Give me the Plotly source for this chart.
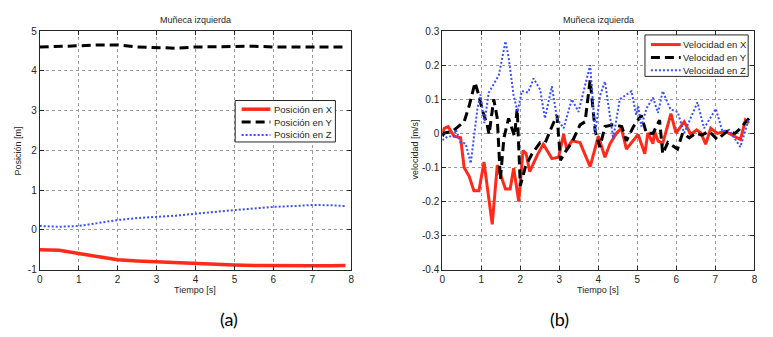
import plotly.graph_objects as go

# ---- Position of the left wrist (m) ----
pos_t = [0.0, 0.5, 1.0, 1.5, 2.0, 2.5, 3.0, 3.5, 4.0, 4.5, 5.0, 5.5, 6.0, 6.5, 7.0, 7.5, 7.85]
pos_x = [-0.5, -0.51, -0.59, -0.68, -0.75, -0.78, -0.8, -0.83, -0.86, -0.87, -0.88, -0.89, -0.9, -0.9, -0.9, -0.9, -0.89]
pos_y = [4.6, 4.61, 4.63, 4.65, 4.65, 4.6, 4.59, 4.57, 4.6, 4.61, 4.62, 4.62, 4.6, 4.6, 4.59, 4.59, 4.6]
pos_z = [0.1, 0.08, 0.1, 0.17, 0.25, 0.3, 0.33, 0.36, 0.41, 0.46, 0.5, 0.54, 0.58, 0.6, 0.63, 0.62, 0.6]

# ---- Velocity of the left wrist (m/s) ----
velx_t = [0.0, 0.05, 0.15, 0.3, 0.47, 0.56, 0.69, 0.81, 0.94, 1.07, 1.28, 1.41, 1.62, 1.74, 1.83, 1.96,
          2.07, 2.15, 2.24, 2.45, 2.59, 2.81, 2.98, 3.11, 3.19, 3.32, 3.53, 3.66, 3.79, 4.0, 4.17, 4.3,
          4.47, 4.59, 4.72, 5.02, 5.19, 5.27, 5.4, 5.44, 5.53, 5.65, 5.86, 5.99, 6.2, 6.37, 6.52, 6.63,
          6.75, 6.88, 7.05, 7.26, 7.45, 7.64, 7.77, 7.86]
velx = [0.0, 0.015, 0.02, -0.008, -0.013, -0.1, -0.126, -0.168, -0.168, -0.084, -0.267, -0.093, -0.163,
        -0.163, -0.102, -0.2, -0.05, -0.06, -0.112, -0.06, -0.032, -0.074, -0.07, -0.003, -0.046, -0.022,
        -0.027, -0.06, -0.098, -0.008, -0.07, -0.03, 0.001, 0.015, -0.046, -0.003, -0.06, 0.001, -0.03,
        0.006, -0.022, -0.03, 0.058, 0.001, 0.034, -0.003, 0.01, 0.001, -0.032, 0.015, 0.0, 0.006,
        -0.005, -0.018, 0.039, 0.03]

vely_t = [0.0, 0.05, 0.26, 0.56, 0.69, 0.84, 0.94, 1.03, 1.15, 1.2, 1.32, 1.41, 1.49, 1.58, 1.7, 1.85,
          1.92, 2.0, 2.13, 2.3, 2.51, 2.64, 2.81, 2.94, 3.03, 3.15, 3.32, 3.53, 3.66, 3.79, 3.92, 4.04,
          4.17, 4.38, 4.6, 4.72, 4.9, 5.1, 5.23, 5.4, 5.57, 5.65, 5.78, 6.03, 6.16, 6.33, 6.5, 6.65,
          6.84, 7.05, 7.3, 7.5, 7.6, 7.86]
vely = [-0.008, 0.001, 0.006, 0.034, 0.081, 0.149, 0.11, 0.067, 0.025, -0.003, 0.1, 0.044, -0.135,
        -0.013, 0.044, -0.008, 0.072, -0.154, -0.098, -0.06, -0.027, -0.027, 0.02, 0.053, -0.079,
        -0.055, -0.027, 0.025, 0.034, 0.157, 0.006, -0.04, 0.02, 0.025, 0.02, -0.022, 0.02, 0.053,
        0.001, 0.0, 0.039, -0.06, -0.027, -0.046, 0.001, -0.013, 0.001, -0.005, 0.006, -0.018,
        0.006, 0.0, 0.01, 0.044]

velz_t = [0.0, 0.05, 0.13, 0.3, 0.35, 0.47, 0.6, 0.73, 0.9, 0.98, 1.08, 1.19, 1.45, 1.62, 1.7, 1.83,
          1.93, 2.04, 2.2, 2.34, 2.51, 2.63, 2.81, 2.94, 3.11, 3.32, 3.49, 3.79, 3.92, 4.04, 4.17, 4.38,
          4.55, 4.85, 4.97, 5.02, 5.1, 5.23, 5.4, 5.53, 5.65, 5.85, 6.03, 6.2, 6.54, 6.71, 7.01, 7.18,
          7.35, 7.64, 7.86]
velz = [-0.02, -0.017, -0.01, -0.008, 0.011, -0.027, -0.03, -0.088, 0.072, 0.114, 0.03, 0.119, 0.171,
        0.27, 0.223, 0.11, 0.063, 0.124, 0.12, 0.161, 0.128, 0.044, 0.138, 0.044, 0.015, 0.1, 0.063,
        0.2, 0.0, 0.11, 0.152, -0.015, 0.1, 0.124, 0.054, 0.081, 0.02, 0.072, 0.105, 0.06, 0.124,
        0.07, 0.063, 0.001, 0.091, 0.015, 0.072, 0.006, 0.01, -0.04, 0.044]

pos_ticks = [-1, 0, 1, 2, 3, 4, 5]
pos_ticktext = ["-1", "0", "1", "2", "3", "4", "5"]
vel_ticks = [-0.4, -0.3, -0.2, -0.1, 0, 0.1, 0.2, 0.3]
vel_ticktext = ["-0.4", "-0.3", "-0.2", "-0.1", "0", "0.1", "0.2", "0.3"]
time_ticks = [0, 1, 2, 3, 4, 5, 6, 7, 8]

pos_names = ["Posición en X", "Posición en Y", "Posición en Z"]
vel_names = ["Velocidad en X", "Velocidad en Y", "Velocidad en Z"]

RED = "#ff2a1a"
BLACK = "#000000"
BLUE = "#3a4dff"
FONT = "Liberation Sans, Arial, sans-serif"
TEXT = "#262626"

styles = [
    dict(color=RED, width=3.5),
    dict(color=BLACK, width=3, dash="9px,5px"),
    dict(color=BLUE, width=2, dash="2px,2px"),
]

fig = go.Figure()

# Position traces (left panel)
for t, v, name, st in zip([pos_t] * 3, [pos_x, pos_y, pos_z], pos_names, styles):
    fig.add_trace(go.Scatter(x=t, y=v, mode="lines", name=name, line=st,
                             xaxis="x", yaxis="y", showlegend=False))

# Velocity traces (right panel)
vel_styles = [dict(styles[0], width=3), styles[1], styles[2]]
for t, v, name, st in zip([velx_t, vely_t, velz_t], [velx, vely, velz], vel_names, vel_styles):
    fig.add_trace(go.Scatter(x=t, y=v, mode="lines", name=name, line=st,
                             xaxis="x2", yaxis="y2", showlegend=False))

W, H = 773, 337
L1, R1 = 37 / W, 351 / W
L2, R2 = 442.7 / W, 757.3 / W
TOP, BOT = 1 - 26 / H, 1 - 273.5 / H

axis_common = dict(
    showline=True, linecolor=TEXT, linewidth=1, mirror="ticks",
    ticks="inside", ticklen=4, tickcolor=TEXT,
    showgrid=True, gridcolor="#9a9a9a", griddash="dot", gridwidth=1,
    zeroline=False, tickfont=dict(family=FONT, size=10, color=TEXT),
)

fig.update_layout(
    width=W, height=H,
    margin=dict(l=0, r=0, t=0, b=0),
    paper_bgcolor="white", plot_bgcolor="white",
    xaxis=dict(domain=[L1, R1], range=[0, 8], tickvals=time_ticks, anchor="y", **axis_common),
    yaxis=dict(domain=[BOT, TOP], range=[-1, 5], tickvals=pos_ticks, ticktext=pos_ticktext,
               anchor="x", **axis_common),
    xaxis2=dict(domain=[L2, R2], range=[0, 8], tickvals=time_ticks, anchor="y2", **axis_common),
    yaxis2=dict(domain=[BOT, TOP], range=[-0.4, 0.3], tickvals=vel_ticks, ticktext=vel_ticktext,
                anchor="x2", **axis_common),
)


def px_x(x):
    return x / W


def px_y(y):
    return 1 - y / H


def note(text, x, y, size=9, angle=0, family=FONT, color=TEXT, anchor="center"):
    fig.add_annotation(text=text, x=px_x(x), y=px_y(y), xref="paper", yref="paper",
                       showarrow=False, textangle=angle,
                       font=dict(family=family, size=size, color=color),
                       xanchor=anchor, yanchor="middle")


def legend_box(x0, y0, x1, y1, rows, line_x0, line_x1, text_x, names, line_styles):
    fig.add_shape(type="rect", xref="paper", yref="paper",
                  x0=px_x(x0), x1=px_x(x1), y0=px_y(y1), y1=px_y(y0),
                  line=dict(color=TEXT, width=1), fillcolor="white", layer="above")
    for ry, name, st in zip(rows, names, line_styles):
        fig.add_shape(type="line", xref="paper", yref="paper",
                      x0=px_x(line_x0), x1=px_x(line_x1), y0=px_y(ry), y1=px_y(ry),
                      line=st, layer="above")
        note(name, text_x, ry, size=9.5, anchor="left")


legend_box(234, 98, 335, 141, [107, 120.3, 133.7], 240.5, 269.5, 271, pos_names, styles)
legend_box(647, 30, 751, 73, [40, 53.3, 66.7], 653, 683, 683.5, vel_names, vel_styles)

note("Muñeca izquierda", 194, 15)
note("Muñeca izquierda", 600, 15)
note("Tiempo [s]", 194, 294)
note("Tiempo [s]", 600, 294)
note("Posición [m]", 15, 150, angle=-90)
note("velocidad [m/s]", 415, 149, angle=-90)
note("(a)", 228, 325, size=18, family="Lato, Open Sans, sans-serif", color="#000000")
note("(b)", 561, 325, size=18, family="Lato, Open Sans, sans-serif", color="#000000")

fig.write_html("out.html")
